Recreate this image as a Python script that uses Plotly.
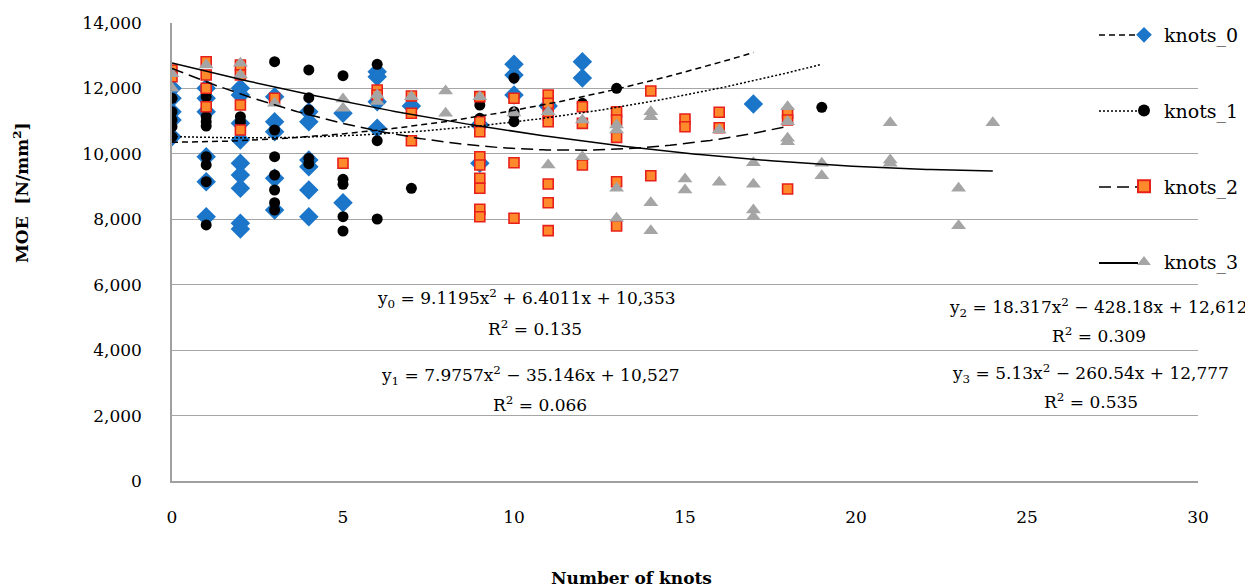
import numpy as np
import plotly.graph_objects as go

SERIES = ["knots_0", "knots_1", "knots_2", "knots_3"]

# knots_0 (blue diamonds)
k0_x = [0, 0, 0, 0, 0,
        1, 1, 1, 1, 1, 1,
        2, 2, 2, 2, 2, 2, 2, 2, 2,
        3, 3, 3, 3, 3,
        4, 4, 4, 4, 4, 4,
        5, 5,
        6, 6, 6, 6,
        7,
        9, 9,
        10, 10, 10,
        11,
        12, 12,
        17]
k0_y = [12004, 11698, 11289, 11035, 10525,
        12004, 11698, 11289, 9913, 9149, 8079,
        12004, 11799, 10932, 10423, 9711, 9354, 8947, 7877, 7700,
        11749, 10983, 10677, 9253, 8284,
        11289, 10983, 9813, 9608, 8895, 8079,
        11240, 8507,
        12512, 12359, 11595, 10782,
        11463,
        10882, 9711,
        12737, 12411, 11799,
        11463,
        12817, 12318,
        11524]

# knots_1 (black circles)
k1_x = [0, 0, 0, 0, 0,
        1, 1, 1, 1, 1, 1, 1, 1,
        2, 2,
        3, 3, 3, 3, 3, 3, 3,
        4, 4, 4, 4, 4,
        5, 5, 5, 5, 5,
        6, 6, 6,
        7,
        9, 9,
        10, 10, 10, 10,
        12,
        13,
        19]
k1_y = [11698, 11289, 11035, 10830, 10525,
        11749, 11136, 10983, 10850, 9913, 9660, 9149, 7826,
        11136, 10983,
        12817, 10729, 9913, 9354, 8895, 8507, 8284,
        12564, 11717, 11341, 9864, 9700,
        12390, 9222, 9069, 8079, 7642,
        12737, 10402, 8009,
        8947,
        11493, 11087,
        12318, 11290, 11200, 10983,
        11545,
        12004,
        11423]

# knots_2 (orange squares)
k2_x = [0, 0,
        1, 1, 1, 1,
        2, 2, 2, 2,
        3,
        5,
        6, 6,
        7, 7, 7,
        9, 9, 9, 9, 9, 9, 9, 9, 9,
        10, 10, 10,
        11, 11, 11, 11, 11, 11, 11,
        12, 12, 12,
        13, 13, 13, 13, 13,
        14, 14,
        15, 15,
        16, 16,
        18, 18, 18]
k2_y = [12564, 12359,
        12817, 12411, 12004, 11442,
        12716, 12411, 11493, 10729,
        11698,
        9711,
        11952, 11800,
        11769, 11240, 10402,
        11749, 10983, 10677, 9913, 9660, 9253, 8947, 8305, 8079,
        11698, 9730, 8030,
        11799, 11545, 11188, 10983, 9079, 8507, 7652,
        11442, 10932, 9660,
        11289, 11035, 10505, 9149, 7795,
        11921, 9333,
        11066, 10830,
        11270, 10800,
        11240, 11035, 8926]

# knots_3 (grey triangles)
k3_x = [0, 0,
        1,
        2, 2,
        3,
        5, 5,
        6, 6,
        7,
        8, 8,
        9,
        10,
        11, 11,
        12, 12,
        13, 13, 13, 13,
        14, 14, 14, 14,
        15, 15,
        16, 16,
        17, 17, 17, 17,
        18, 18, 18, 18,
        19, 19,
        21, 21, 21,
        23, 23,
        24]
k3_y = [12450, 12004,
        12716,
        12767, 12411,
        11545,
        11677, 11393,
        11800, 11600,
        11749,
        11921, 11240,
        11749,
        11250,
        11289, 9660,
        11035, 9913,
        10882, 10729, 8947, 8030,
        11289, 11136, 8507, 7652,
        9232, 8895,
        10729, 9131,
        9730, 9069, 8284, 8079,
        11442, 10983, 10476, 10372,
        9711, 9333,
        10953, 9813, 9711,
        8947, 7805,
        10953]

# Polynomial trendline coefficients (a2, a1, a0) as printed on the chart
trend_coeffs = {
    "knots_0": [9.1195, 6.4011, 10353],
    "knots_1": [7.9757, -35.146, 10527],
    "knots_2": [18.317, -428.18, 12612],
    "knots_3": [5.13, -260.54, 12777],
}
trend_xmax = {"knots_0": 17, "knots_1": 19, "knots_2": 18, "knots_3": 24}
trend_labels = {
    "knots_0": ("y<sub>0</sub> = 9.1195x<sup>2</sup> + 6.4011x + 10,353", "R<sup>2</sup> = 0.135"),
    "knots_1": ("y<sub>1</sub> = 7.9757x<sup>2</sup> − 35.146x + 10,527", "R<sup>2</sup> = 0.066"),
    "knots_2": ("y<sub>2</sub> = 18.317x<sup>2</sup> − 428.18x + 12,612", "R<sup>2</sup> = 0.309"),
    "knots_3": ("y<sub>3</sub> = 5.13x<sup>2</sup> − 260.54x + 12,777", "R<sup>2</sup> = 0.535"),
}

data = {"knots_0": (k0_x, k0_y), "knots_1": (k1_x, k1_y),
        "knots_2": (k2_x, k2_y), "knots_3": (k3_x, k3_y)}

FONT = "DejaVu Serif"
markers = {
    "knots_0": dict(symbol="diamond", size=15, color="#1B75C9", line=dict(width=0)),
    "knots_1": dict(symbol="circle", size=11, color="#000000", line=dict(width=0)),
    "knots_2": dict(symbol="square", size=10, color="#FF8A2B", line=dict(width=1.6, color="#E8201A")),
    "knots_3": dict(symbol="triangle-up", size=13, color="#A5A5A5", line=dict(width=0)),
}
dashes = {"knots_0": "6px,4px", "knots_1": "2px,2px", "knots_2": "12px,6px", "knots_3": "solid"}

fig = go.Figure()
for s in SERIES:
    xs, ys = data[s]
    fig.add_trace(go.Scatter(x=xs, y=ys, mode="markers", name=s, marker=markers[s],
                             legendgroup=s, showlegend=True))

for s in SERIES:
    a2, a1, a0 = trend_coeffs[s]
    tx = np.linspace(0, trend_xmax[s], 200)
    ty = a2 * tx ** 2 + a1 * tx + a0
    fig.add_trace(go.Scatter(x=tx, y=ty, mode="lines", showlegend=False, hoverinfo="skip",
                             line=dict(color="black", width=1.5, dash=dashes[s])))

# page offset of the figure (browser body margin)
OFF = 8
W, H = 1253, 587
# plot area in page pixels: x 172..1198, y 23..481
L, R, T, B = 172, 1198, 23, 481
def px_to_paper_x(p):
    return (p - L) / (R - L)
def px_to_paper_y(p):
    return (B - p) / (B - T)

ann = []
# (x, y, xanchor) for equation and R² lines
eq_pos = {
    "knots_0": ((375, 298, "left"), (535, 328, "center")),
    "knots_1": ((379, 375, "left"), (540, 404, "center")),
    "knots_2": ((1250, 307, "right"), (1099, 335, "center")),
    "knots_3": ((1231, 373, "right"), (1091, 401, "center")),
}
for s in SERIES:
    (ex, ey, ea), (rx, ry, ra) = eq_pos[s]
    eq, r2 = trend_labels[s]
    ann.append(dict(text=eq, x=px_to_paper_x(ex), y=px_to_paper_y(ey), xref="paper", yref="paper",
                    showarrow=False, font=dict(family=FONT, size=17, color="black"),
                    xanchor=ea, yanchor="middle"))
    ann.append(dict(text=r2, x=px_to_paper_x(rx), y=px_to_paper_y(ry), xref="paper", yref="paper",
                    showarrow=False, font=dict(family=FONT, size=17, color="black"),
                    xanchor=ra, yanchor="middle"))

ann.append(dict(text="<b>Number of knots</b>", x=px_to_paper_x(631), y=px_to_paper_y(578),
                xref="paper", yref="paper", showarrow=False,
                font=dict(family=FONT, size=17, color="black"), xanchor="center", yanchor="middle"))
ann.append(dict(text="<b>MOE  [N/mm<sup>2</sup>]</b>", x=px_to_paper_x(21), y=px_to_paper_y(193),
                xref="paper", yref="paper", showarrow=False, textangle=-90,
                font=dict(family=FONT, size=17, color="black"), xanchor="center", yanchor="middle"))

# legend line samples
shapes = []
leg_rows = [35, 111, 187, 263]
for s, yy in zip(SERIES, leg_rows):
    shapes.append(dict(type="line", xref="paper", yref="paper",
                       x0=px_to_paper_x(1099), x1=px_to_paper_x(1138),
                       y0=px_to_paper_y(yy), y1=px_to_paper_y(yy),
                       line=dict(color="black", width=1.5 if s != "knots_3" else 2.2, dash=dashes[s])))

fig.update_layout(
    width=W - OFF, height=H - OFF,
    margin=dict(l=L - OFF, r=W - R, t=T - OFF, b=H - B, autoexpand=False),
    paper_bgcolor="white", plot_bgcolor="white",
    font=dict(family=FONT, size=17, color="black"),
    showlegend=True,
    legend=dict(x=px_to_paper_x(1124), y=px_to_paper_y(16), xanchor="left", yanchor="top",
                bgcolor="rgba(0,0,0,0)", font=dict(family=FONT, size=19, color="black"),
                tracegroupgap=48, itemsizing="constant"),
    annotations=ann,
    shapes=shapes,
)
fig.update_xaxes(range=[0, 30], dtick=5, tick0=0, showgrid=False, showline=True,
                 linecolor="#A0A0A0", linewidth=1.5, zeroline=False, ticks="",
                 ticklabelstandoff=20, tickfont=dict(family=FONT, size=17))
fig.update_yaxes(range=[0, 14000], dtick=2000, tick0=0, tickformat=",d", showgrid=True,
                 gridcolor="#A6A6A6", gridwidth=1.3, showline=True, linecolor="#A0A0A0",
                 linewidth=1.5, zeroline=False, ticks="", ticklabelstandoff=25,
                 tickfont=dict(family=FONT, size=17))

fig.write_html("out.html")
